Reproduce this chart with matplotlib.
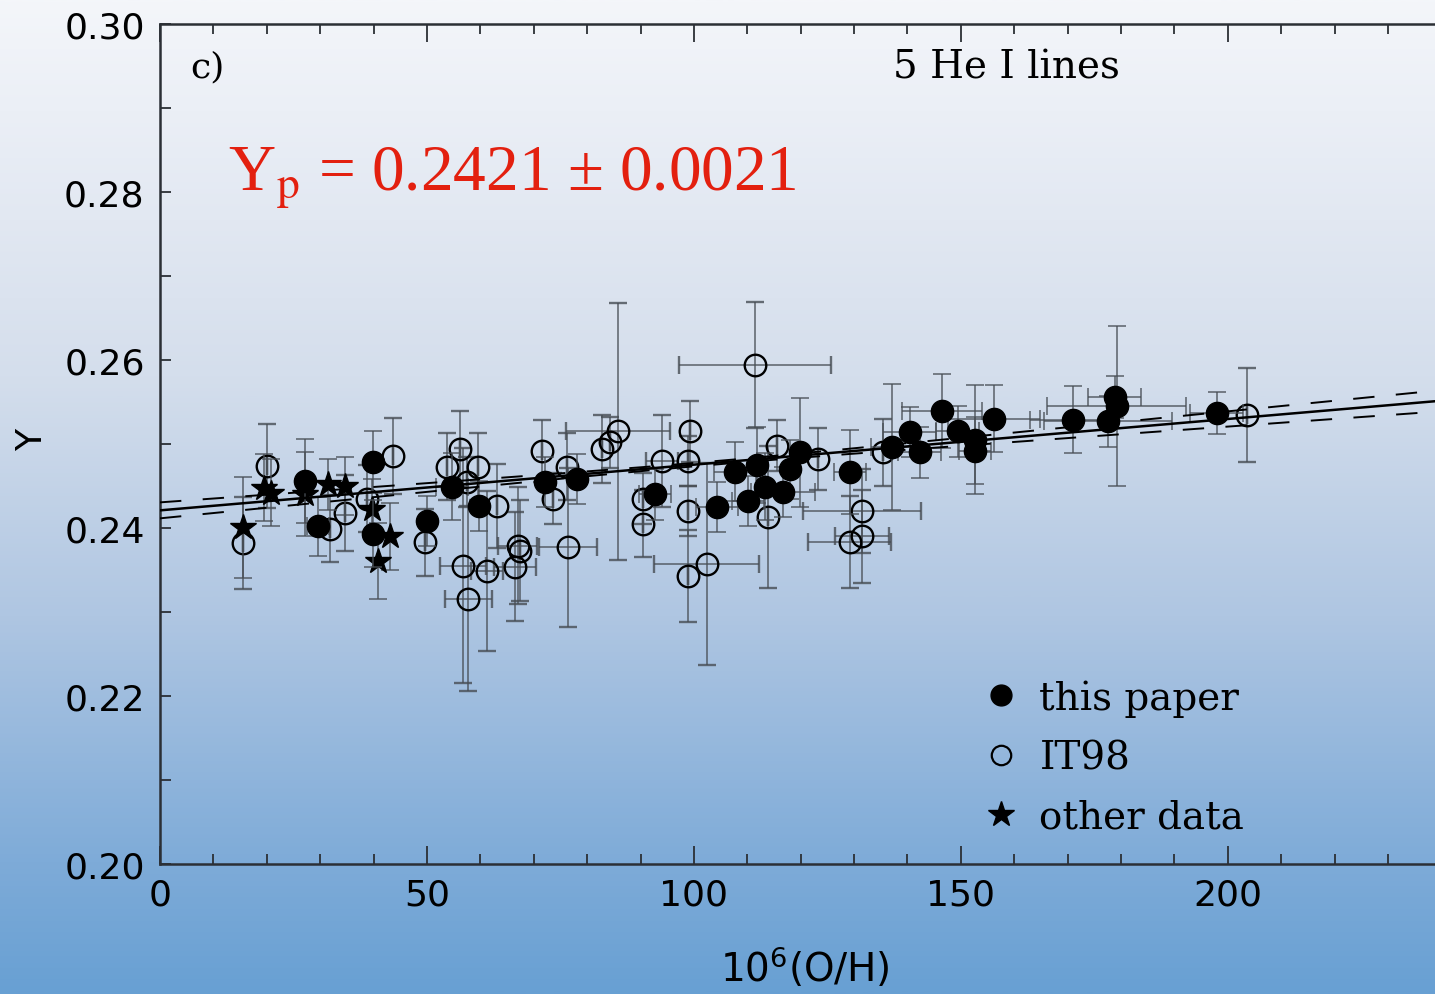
import numpy as np
import matplotlib
matplotlib.use("Agg")
import matplotlib.pyplot as plt
from matplotlib.colors import LinearSegmentedColormap
from matplotlib.lines import Line2D
from matplotlib.ticker import MultipleLocator

# helium abundance vs oxygen abundance, 5 He I lines
# this paper (filled circles)
tp_x = [27.2, 29.6, 39.9, 39.9, 50.0, 54.7, 59.7, 72.1, 78.1, 92.7, 104.3,
        107.7, 111.8, 110.1, 113.3, 116.7, 118.0, 119.9, 129.2, 137.1, 140.4,
        142.3, 146.4, 149.4, 152.6, 152.6, 156.2, 171.0, 177.5, 178.8, 179.2,
        197.9]
tp_y = [0.2456, 0.2402, 0.2479, 0.2393, 0.2408, 0.2449, 0.2426, 0.2455,
        0.2458, 0.2440, 0.2425, 0.2467, 0.2475, 0.2432, 0.2449, 0.2443,
        0.2470, 0.2490, 0.2467, 0.2496, 0.2514, 0.2490, 0.2539, 0.2515,
        0.2505, 0.2492, 0.2530, 0.2529, 0.2527, 0.2556, 0.2545, 0.2537]
tp_xerr = [0, 2, 0, 0, 0, 3, 0, 0, 0, 3, 4, 4, 0, 3, 0, 6, 0, 0, 3, 4, 5,
           4, 7.5, 4, 0, 3, 8.6, 8, 12, 5, 13, 5]
tp_yerr = [0.0050, 0.0035, 0.0037, 0.0040, 0.0030, 0.0040, 0.0030, 0.0030,
           0.0030, 0.0030, 0.0030, 0.0035, 0.0045, 0.0030, 0.0040, 0.0030,
           0.0035, 0.0065, 0.0050, 0.0075, 0.0030, 0.0030, 0.0044, 0.0030,
           0.0065, 0.0040, 0.0040, 0.0040, 0.0030, 0.0025, 0.0095, 0.0025]

# IT98 (open circles)
it_x = [15.5, 20.0, 31.8, 34.6, 38.8, 43.6, 49.6, 53.7, 56.2, 57.5, 59.6,
        63.1, 56.7, 57.7, 61.2, 67.0, 67.5, 66.5, 71.5, 76.2, 73.6, 76.4,
        82.8, 84.3, 85.8, 90.4, 90.4, 94.0, 99.3, 98.9, 98.9, 98.9, 102.4,
        111.4, 115.5, 123.2, 113.9, 131.5, 129.2, 131.5, 135.4, 203.6]
it_y = [0.2382, 0.2474, 0.2399, 0.2418, 0.2435, 0.2486, 0.2383, 0.2473,
        0.2494, 0.2455, 0.2473, 0.2426, 0.2355, 0.2316, 0.2349, 0.2379,
        0.2373, 0.2354, 0.2492, 0.2473, 0.2435, 0.2377, 0.2494, 0.2502,
        0.2515, 0.2435, 0.2405, 0.2480, 0.2515, 0.2480, 0.2420, 0.2343,
        0.2357, 0.2594, 0.2498, 0.2482, 0.2413, 0.2420, 0.2383, 0.2390,
        0.2490, 0.2535]
it_xerr = [0, 0, 0, 0, 0, 0, 0, 0, 0, 0, 0, 0, 4.3, 4.4, 3, 3.7, 0, 4, 0,
           0, 0, 5.5, 0, 0, 9.8, 0, 0, 3, 0, 0, 0, 0, 9.8, 14.2, 0, 0, 0,
           11, 7.8, 5, 0, 0]
it_yerr = [0.0055, 0.0050, 0.0040, 0.0045, 0.0040, 0.0045, 0.0040, 0.0040,
           0.0045, 0.0030, 0.0040, 0.0050, 0.0140, 0.0110, 0.0095, 0.0070,
           0.0060, 0.0065, 0.0037, 0.0040, 0.0030, 0.0095, 0.0040, 0.0030,
           0.0153, 0.0030, 0.0040, 0.0055, 0.0036, 0.0030, 0.0030, 0.0055,
           0.0120, 0.0075, 0.0030, 0.0037, 0.0085, 0.0050, 0.0055, 0.0055,
           0.0040, 0.0056]

# other data (stars)
ot_x = [15.5, 19.5, 20.8, 27.2, 31.5, 34.6, 39.7, 43.1, 40.8]
ot_y = [0.2401, 0.2448, 0.2442, 0.2440, 0.2452, 0.2450, 0.2423, 0.2390, 0.2361]
ot_yerr = [0.0060, 0.0040, 0.0040, 0.0050, 0.0030, 0.0035, 0.0035, 0.0040,
           0.0045]

# regression Y = Yp + slope * O/H and its 1-sigma band
yp = 0.2421
yp_err = 0.0021
slope = 5.44e-5
band_min = 0.0002
band_slope = 9.06e-6
band_center = 102.6

fig = plt.figure(figsize=(14.35, 9.95), dpi=100)

# blue gradient backdrop
bg = fig.add_axes([0, 0, 1, 1], zorder=-1)
cmap = LinearSegmentedColormap.from_list(
    "sky", [(0.0, "#f4f6fa"), (0.22, "#e2e8f2"), (0.38, "#d4deec"),
            (0.62, "#afc6e2"), (0.87, "#7eabd8"), (1.0, "#68a0d3")])
bg.imshow(np.linspace(0, 1, 512).reshape(-1, 1), aspect="auto", cmap=cmap,
          extent=[0, 1, 0, 1], origin="upper")
bg.axis("off")

ax = fig.add_axes([160 / 1435, 130 / 995, 1 - 160 / 1435, 840 / 995])
ax.set_facecolor("none")

ecol = (0.28, 0.30, 0.33, 0.8)
common = dict(ecolor=ecol, elinewidth=1.2, capsize=6.5, capthick=1.2,
              linestyle="none")

ax.errorbar(it_x, it_y, xerr=it_xerr, yerr=it_yerr, marker="o", ms=15.5,
            mfc="none", mec="black", mew=1.7, zorder=3, **common)
ax.errorbar(ot_x, ot_y, yerr=ot_yerr, marker="*", ms=19, mfc="black",
            mec="black", zorder=4, **common)
ax.errorbar(tp_x, tp_y, xerr=tp_xerr, yerr=tp_yerr, marker="o", ms=16,
            mfc="black", mec="black", zorder=5, **common)

xs = np.linspace(0, 240, 200)
fit = yp + slope * xs
band = np.sqrt(band_min ** 2 + (band_slope * (xs - band_center)) ** 2)
ax.plot(xs, fit, color="black", lw=1.8, zorder=6)
ax.plot(xs, fit + band, color="black", lw=1.4, dashes=(11, 11), zorder=6)
ax.plot(xs, fit - band, color="black", lw=1.4, dashes=(11, 11), zorder=6)

ax.set_xlim(0, 238.8)
ax.set_ylim(0.20, 0.30)

for side in ["left", "bottom", "top"]:
    ax.spines[side].set_linewidth(1.8)
    ax.spines[side].set_color("#2b2f35")
ax.spines["right"].set_visible(False)

ax.xaxis.set_major_locator(MultipleLocator(50))
ax.xaxis.set_minor_locator(MultipleLocator(10))
ax.yaxis.set_major_locator(MultipleLocator(0.02))
ax.yaxis.set_minor_locator(MultipleLocator(0.01))
ax.yaxis.set_major_formatter(plt.FormatStrFormatter("%.2f"))
ax.tick_params(axis="x", which="both", direction="in", top=True,
               width=1.3, color="#2b2f35", labelsize=26, pad=10)
ax.tick_params(axis="x", which="major", length=13)
ax.tick_params(axis="x", which="minor", length=7)
ax.tick_params(axis="y", which="both", direction="in", right=False,
               length=8, width=1.3, color="#2b2f35", labelsize=26, pad=11)

ax.set_xlabel(r"10$^6$(O/H)", fontsize=28, va="center", ha="center")
ax.xaxis.set_label_coords(0.506, -0.1226)
ax.set_ylabel("Y", fontsize=26, va="center", ha="center")
ax.yaxis.set_label_coords(-0.100, 0.506)

ax.text(0.0235, 0.949, "c)", transform=ax.transAxes, fontsize=26,
        fontfamily="DejaVu Serif", va="center", ha="left")
ax.text(0.664, 0.949, "5 He I lines", transform=ax.transAxes, fontsize=28,
        fontfamily="DejaVu Serif", va="center", ha="center")
ax.text(0.053, 0.8036, "Y$_\\mathrm{p}$ = 0.2421 \u00b1 0.0021",
        transform=ax.transAxes, fontsize=47, color="#e3200f",
        fontfamily="Liberation Serif", math_fontfamily="stix",
        va="baseline", ha="left")

handles = [
    Line2D([], [], marker="o", ls="none", ms=15, mfc="black", mec="black"),
    Line2D([], [], marker="o", ls="none", ms=14, mfc="none", mec="black",
           mew=1.6),
    Line2D([], [], marker="*", ls="none", ms=19, mfc="black", mec="black"),
]
ax.legend(handles, ["this paper", "IT98", "other data"], loc="upper left",
          bbox_to_anchor=(0.644, 0.220), frameon=False, borderpad=0,
          borderaxespad=0, handlelength=1.0, handletextpad=0.5,
          labelspacing=0.58,
          prop={"family": "DejaVu Serif", "size": 28})

fig.savefig("out.png", dpi=100)
